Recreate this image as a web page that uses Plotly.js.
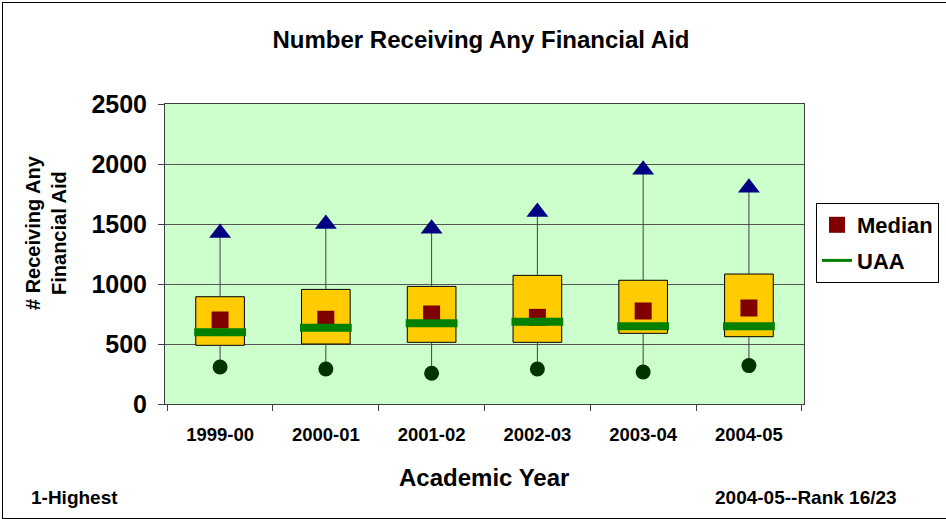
<!DOCTYPE html>
<html>
<head>
<meta charset="utf-8">
<script src="https://cdn.plot.ly/plotly-3.0.1.min.js"></script>
<style>
  body { margin: 0; background: #fff; }
  #chart { width: 946px; height: 519px; }
  #frame { position: absolute; left: 2px; top: 2px; width: 960px; height: 515px; border: 1px solid #000; pointer-events: none; }
</style>
</head>
<body>
<div id="chart"></div>
<div id="frame"></div>
<script>
// values
var years = ["1999-00", "2000-01", "2001-02", "2002-03", "2003-04", "2004-05"];
var maxVals = [1425, 1500, 1460, 1600, 1953, 1803];
var q3Vals = [894, 955, 980, 1072, 1031, 1083];
var medianVals = [700, 706, 750, 722, 775, 800];
var q1Vals = [489, 500, 514, 514, 589, 561];
var minVals = [308, 292, 256, 292, 267, 320];
var uaaVals = [597, 636, 672, 686, 647, 647];

var boldFont = "Liberation Sans, Arial, sans-serif";

// whisker segments, null separated
var whiskerX = [];
var whiskerY = [];
years.forEach(function (yr, i) {
  whiskerX.push(yr, yr, null, yr, yr, null);
  whiskerY.push(q3Vals[i], maxVals[i], null, minVals[i], q1Vals[i], null);
});

var trace_whisker = {
  x: whiskerX,
  y: whiskerY,
  mode: "lines",
  type: "scatter",
  line: { color: "#404040", width: 1 },
  hoverinfo: "skip",
  showlegend: false,
};

var trace_box = {
  x: years,
  y: q3Vals.map(function (d, i) { return d - q1Vals[i]; }),
  base: q1Vals,
  type: "bar",
  width: 0.46,
  marker: { color: "#FFCC00", line: { color: "#000000", width: 1 } },
  hoverinfo: "skip",
  showlegend: false,
};

var trace_max = {
  x: years,
  y: maxVals,
  mode: "markers",
  type: "scatter",
  name: "Max",
  marker: { symbol: "triangle-up", size: 19, color: "#000080" },
  showlegend: false,
};

var trace_min = {
  x: years,
  y: minVals,
  mode: "markers",
  type: "scatter",
  name: "Min",
  marker: { symbol: "circle", size: 15, color: "#003300" },
  showlegend: false,
};

var trace_median = {
  x: years,
  y: medianVals,
  mode: "markers",
  type: "scatter",
  name: "Median",
  legendgroup: "a",
  marker: { symbol: "square", size: 17, color: "#800000" },
};

var trace_uaa = {
  x: years,
  y: uaaVals,
  mode: "markers",
  type: "scatter",
  name: "UAA",
  showlegend: false,
  marker: {
    symbol: "line-ew",
    size: 37,
    color: "#008000",
    line: { color: "#008000", width: 8 },
  },
};

// legend entry for UAA (thin line like the original legend)
var trace_uaa_legend = {
  x: [null],
  y: [null],
  mode: "lines",
  type: "scatter",
  name: "UAA",
  legendgroup: "b",
  line: { color: "#008000", width: 3 },
};

var data = [trace_whisker, trace_box, trace_max, trace_min, trace_median, trace_uaa, trace_uaa_legend];

var layout = {
  width: 946,
  height: 519,
  margin: { l: 165, r: 142, t: 104, b: 115, autoexpand: false },
  paper_bgcolor: "#ffffff",
  plot_bgcolor: "#CCFFCC",
  font: { family: boldFont, color: "#000000" },
  title: {
    text: "Number Receiving Any Financial Aid",
    font: { family: boldFont, size: 24, weight: "bold", color: "#000" },
    x: (481 - 165) / 639,
    xref: "paper",
    xanchor: "center",
    y: 1 - 40 / 519,
    yanchor: "middle",
  },
  xaxis: {
    type: "category",
    tickson: "boundaries",
    ticks: "outside",
    ticklen: 6,
    tickcolor: "#404040",
    showline: true,
    linecolor: "#404040",
    mirror: true,
    showgrid: false,
    ticklabelstandoff: 14,
    tickfont: { family: boldFont, size: 18.5, weight: "bold", color: "#000" },
    fixedrange: true,
  },
  yaxis: {
    range: [0, 2500],
    dtick: 500,
    ticks: "outside",
    ticklen: 6,
    tickcolor: "#404040",
    showline: true,
    linecolor: "#404040",
    mirror: true,
    gridcolor: "#555555",
    gridwidth: 1,
    zeroline: false,
    ticklabelstandoff: 6,
    tickfont: { family: boldFont, size: 25, weight: "bold", color: "#000" },
  },
  bargap: 0.54,
  showlegend: true,
  legend: {
    x: (816 - 165) / 639,
    xanchor: "left",
    y: (404 - 203) / 300,
    yanchor: "top",
    bordercolor: "#000",
    borderwidth: 1,
    bgcolor: "#ffffff",
    tracegroupgap: 4,
    font: { family: boldFont, size: 22, weight: "bold", color: "#000" },
  },
  annotations: [
    {
      text: "# Receiving Any<br>Financial Aid",
      xref: "paper", yref: "paper",
      x: (46 - 165) / 639, y: (404 - 233) / 300,
      xanchor: "center", yanchor: "middle",
      textangle: -90, showarrow: false,
      font: { family: boldFont, size: 20, weight: "bold", color: "#000" },
    },
    {
      text: "Academic Year",
      xref: "paper", yref: "paper",
      x: (484 - 165) / 639, y: (404 - 477) / 300,
      xanchor: "center", yanchor: "middle",
      showarrow: false,
      font: { family: boldFont, size: 24, weight: "bold", color: "#000" },
    },
    {
      text: "1-Highest",
      xref: "paper", yref: "paper",
      x: (29 - 165) / 639, xanchor: "left",
      y: (404 - 497) / 300, yanchor: "middle",
      showarrow: false,
      font: { family: boldFont, size: 19, weight: "bold", color: "#000" },
    },
    {
      text: "2004-05--Rank 16/23",
      xref: "paper", yref: "paper",
      x: (899 - 165) / 639, xanchor: "right",
      y: (404 - 497) / 300, yanchor: "middle",
      showarrow: false,
      font: { family: boldFont, size: 19, weight: "bold", color: "#000" },
    },
  ],
};

Plotly.newPlot("chart", data, layout, { displayModeBar: false, staticPlot: true });
</script>
</body>
</html>
